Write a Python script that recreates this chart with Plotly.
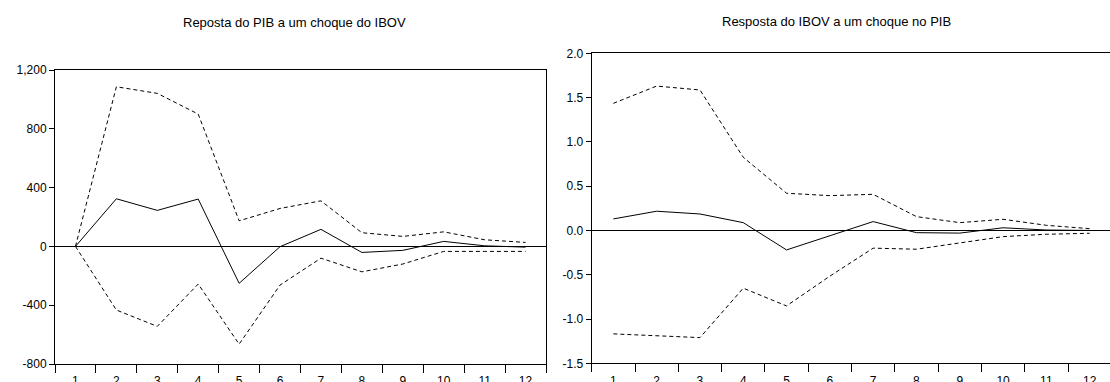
import plotly.graph_objects as go

periods = [str(i) for i in range(1, 13)]

# Reposta do PIB a um choque do IBOV
pib_resp = [0, 324, 245, 322, -251, -2, 116, -41, -27, 34, 4, -5]
pib_upper = [0, 1086, 1041, 900, 174, 258, 310, 93, 68, 99, 45, 27]
pib_lower = [0, -433, -544, -256, -665, -263, -80, -173, -120, -34, -34, -34]

# Resposta do IBOV a um choque no PIB
ibov_resp = [0.13, 0.217, 0.186, 0.088, -0.22, -0.06, 0.10, -0.025, -0.03, 0.03, 0.005, 0.0]
ibov_upper = [1.435, 1.63, 1.586, 0.826, 0.42, 0.393, 0.408, 0.156, 0.088, 0.126, 0.058, 0.02]
ibov_lower = [-1.168, -1.19, -1.21, -0.652, -0.852, -0.516, -0.2, -0.212, -0.145, -0.07, -0.043, -0.032]

left_ticks = [-800, -400, 0, 400, 800, 1200]
left_ticktext = ["-800", "-400", "0", "400", "800", "1,200"]
right_ticks = [-1.5, -1.0, -0.5, 0.0, 0.5, 1.0, 1.5, 2.0]
right_ticktext = ["-1.5", "-1.0", "-0.5", "0.0", "0.5", "1.0", "1.5", "2.0"]

titles = ["Reposta do PIB a um choque do IBOV", "Resposta do IBOV a um choque no PIB"]

FONT = "Liberation Sans, Arial, sans-serif"
W, H = 1110, 382

fig = go.Figure()

solid = dict(color="black", width=1)
dashed = dict(color="black", width=1, dash="4px,3px")

for ax, (resp, up, lo) in zip(["", "2"], [(pib_resp, pib_upper, pib_lower),
                                          (ibov_resp, ibov_upper, ibov_lower)]):
    xa, ya = "x" + ax, "y" + ax
    fig.add_trace(go.Scatter(x=periods, y=up, mode="lines", line=dashed, xaxis=xa, yaxis=ya, showlegend=False))
    fig.add_trace(go.Scatter(x=periods, y=lo, mode="lines", line=dashed, xaxis=xa, yaxis=ya, showlegend=False))
    fig.add_trace(go.Scatter(x=periods, y=resp, mode="lines", line=solid, xaxis=xa, yaxis=ya, showlegend=False))

def xaxis_cfg(domain, rng, anchor):
    return dict(domain=domain, type="category", range=rng, anchor=anchor,
                tickson="boundaries", ticks="outside", ticklen=8, tickcolor="black", tickwidth=1,
                ticklabelstandoff=6,
                showline=True, linecolor="black", linewidth=1, mirror=True,
                showgrid=False, zeroline=False, automargin=False,
                tickfont=dict(family=FONT, size=12, color="black"))

def yaxis_cfg(domain, rng, tv, tt, anchor):
    return dict(domain=domain, range=rng, anchor=anchor, tickvals=tv, ticktext=tt,
                ticks="outside", ticklen=5, tickcolor="black", tickwidth=1,
                showline=True, linecolor="black", linewidth=1, mirror=True,
                showgrid=False, zeroline=True, zerolinecolor="black", zerolinewidth=1,
                automargin=False,
                tickfont=dict(family=FONT, size=12, color="black"))

fig.update_layout(
    width=W, height=H,
    margin=dict(l=0, r=0, t=0, b=0),
    plot_bgcolor="white", paper_bgcolor="white",
    xaxis=xaxis_cfg([55 / W, 546 / W], [-0.5, 11.5], "y"),
    yaxis=yaxis_cfg([(H - 364) / H, (H - 70) / H], [-800, 1200], left_ticks, left_ticktext, "x"),
    xaxis2=xaxis_cfg([591.7 / W, 1.0], [-0.5, 11.47], "y2"),
    yaxis2=yaxis_cfg([(H - 363.3) / H, (H - 53.3) / H], [-1.5, 2.0], right_ticks, right_ticktext, "x2"),
    annotations=[
        dict(text=titles[0], x=294 / W, y=(H - 22.5) / H, xref="paper", yref="paper",
             xanchor="center", yanchor="middle", showarrow=False,
             font=dict(family=FONT, size=13, color="black")),
        dict(text=titles[1], x=836.7 / W, y=(H - 21.5) / H, xref="paper", yref="paper",
             xanchor="center", yanchor="middle", showarrow=False,
             font=dict(family=FONT, size=13, color="black")),
    ],
)

fig.write_html("out.html",
               config={"displayModeBar": False},
               post_script="document.body.style.margin='0';document.body.style.overflow='hidden';")
